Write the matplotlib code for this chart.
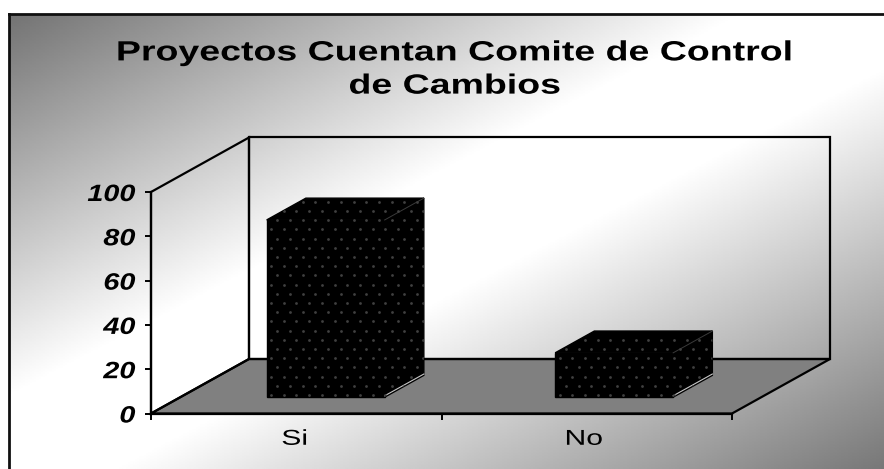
import numpy as np
import matplotlib
matplotlib.use("Agg")
from matplotlib import pyplot as plt
from matplotlib.patches import Polygon
from matplotlib.patheffects import AbstractPathEffect
from matplotlib.transforms import Affine2D

categories = ['Si', 'No']
values = [80, 20]
y_ticks = [0, 20, 40, 60, 80, 100]
title = 'Proyectos Cuentan Comite de Control\nde Cambios'

W, H = 884, 469
plt.rcParams['font.family'] = ['Liberation Sans', 'DejaVu Sans']


class Widen(AbstractPathEffect):
    # the source text is stretched sideways, keep x = cx fixed then move by dx
    def __init__(self, cx, sx, dx=0):
        super().__init__()
        self.cx, self.sx, self.dx = cx, sx, dx

    def draw_path(self, renderer, gc, tpath, affine, rgbFace=None):
        t = Affine2D().translate(-self.cx, 0).scale(self.sx, 1).translate(self.cx + self.dx, 0)
        renderer.draw_path(gc, tpath, affine + t, rgbFace)


fig = plt.figure(figsize=(W / 100, H / 100), dpi=100)


def px_rect(x0, y0, x1, y1):
    # pixel box (y from the top) to figure fractions
    return [x0 / W, 1 - y1 / H, (x1 - x0) / W, (y1 - y0) / H]


# frame runs off the right and bottom of the picture
bg = fig.add_axes(px_rect(9, 14, 884, 469), zorder=0)
xx, yy = np.meshgrid(np.linspace(0, 1, 400), np.linspace(0, 1, 300))
t = (xx + yy) / 2
grey = np.interp(t, [0, 0.42, 0.56, 1], [0.45, 1, 1, 0.47])
bg.imshow(grey, cmap='gray', vmin=0, vmax=1, aspect='auto', extent=(0, 1, 1, 0), interpolation='bilinear')
bg.set_xticks([])
bg.set_yticks([])
bg.spines['right'].set_visible(False)
bg.spines['bottom'].set_visible(False)
for s in ['left', 'top']:
    bg.spines[s].set_linewidth(2)
    bg.spines[s].set_color('#101010')

# front edge of the 3D box is the real axes
ax = fig.add_axes(px_rect(151, 192, 732, 413.5), zorder=1)
ax.patch.set_alpha(0)
ax.set_xlim(0, 2)
ax.set_ylim(0, 100)

# depth of the box in data units
depth_x = 98 / (581 / 2)
depth_y = 54.5 / (221.5 / 100)


def shift(x, y, d):
    return x + depth_x * d, y + depth_y * d


def poly(points, **kw):
    p = Polygon(points, closed=True, clip_on=False, **kw)
    ax.add_patch(p)
    return p


# floor
poly([(0, 0), (2, 0), shift(2, 0, 1), shift(0, 0, 1)], fc='#808080', ec='black', lw=1.6, zorder=1)
# back and side walls
poly([shift(0, 0, 1), shift(2, 0, 1), shift(2, 100, 1), shift(0, 100, 1)], fc='none', ec='black', lw=1.6, zorder=1)
poly([(0, 0), shift(0, 0, 1), shift(0, 100, 1), (0, 100)], fc='none', ec='black', lw=1.6, zorder=1)

# bars
bar_w = 118 / (581 / 2)
bar_step = 288.5 / (581 / 2)
bar_d0 = 0.30
bar_d1 = 0.70
dot_dx = 12.7 / (581 / 2)
dot_dy = 9.2 / (221.5 / 100)

for i, v in enumerate(values):
    left = 0.5 - bar_w / 2 + i * bar_step
    right = left + bar_w
    a = shift(left, 0, bar_d0)
    b = shift(right, 0, bar_d0)
    c = shift(right, v, bar_d0)
    d = shift(left, v, bar_d0)
    b2 = shift(right, 0, bar_d1)
    c2 = shift(right, v, bar_d1)
    d2 = shift(left, v, bar_d1)
    poly([a, b, c, d], fc='black', ec='black', lw=1, zorder=3)
    poly([b, b2, c2, c], fc='black', ec='black', lw=1, zorder=3)
    poly([d, c, c2, d2], fc='black', ec='black', lw=1, zorder=3)
    ax.plot([b[0], b2[0]], [b[1] + 0.6, b2[1] + 0.6], color='#c8c8c8', lw=0.8, zorder=4, clip_on=False)
    ax.plot([c[0], c2[0]], [c[1], c2[1]], color='#3a3a3a', lw=0.7, zorder=4, clip_on=False)

    # dotted fill texture
    for j, yd in enumerate(np.arange(a[1] + 1, c2[1], dot_dy)):
        xd = np.arange(a[0] + 0.015 + (j % 2) * dot_dx / 2, c2[0], dot_dx)
        dots = ax.scatter(xd, np.full(xd.shape, yd), s=4, color='#404040', linewidths=0, zorder=5)
        dots.set_clip_path(Polygon([a, b, b2, c2, d2, d], transform=ax.transData))

ax.spines['top'].set_visible(False)
ax.spines['right'].set_visible(False)
for s in ['left', 'bottom']:
    ax.spines[s].set_linewidth(1.6)
    ax.spines[s].set_zorder(6)

ax.set_yticks(y_ticks)
ax.set_xticks([0, 1, 2])
ax.set_xticklabels([])
ax.set_xticks([0.5, 1.5], minor=True)
ax.set_xticklabels(categories, minor=True, fontsize=15.5)
ax.tick_params(axis='x', which='major', length=4, width=1.4)
ax.tick_params(axis='x', which='minor', length=0, pad=11)
ax.tick_params(axis='y', length=4.3, width=1.4, pad=7)
for lab in ax.get_yticklabels():
    lab.set_fontsize(17)
    lab.set_fontweight('bold')
    lab.set_fontstyle('italic')
    lab.set_path_effects([Widen(135, 1.22)])

# Si and No sit a little off the middle of their slots
for lab, cx, target in zip(ax.get_xticklabels(minor=True), [296.5, 587], [295, 584]):
    lab.set_path_effects([Widen(cx, 1.4, target - cx)])

t_text = fig.text(454.5 / W, 1 - 70 / H, title, ha='center', va='center', fontsize=20, fontweight='bold',
                  linespacing=1.36, zorder=3)
t_text.set_path_effects([Widen(454.5, 1.35)])

fig.savefig('out.png', dpi=100)
